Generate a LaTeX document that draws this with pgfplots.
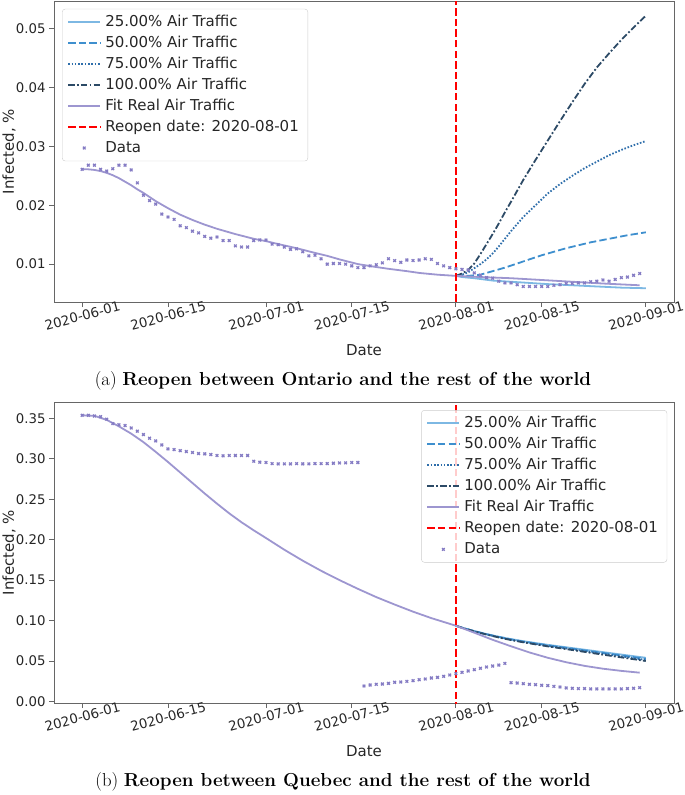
\documentclass[border=0pt]{standalone}
\usepackage{fontspec}
\usepackage{pgfplots}
\usepackage{pgfplotstable}
\pgfplotsset{compat=1.18}
\newfontfamily\dejavu{DejaVu Sans}

\definecolor{c25}{HTML}{7DB8E3}
\definecolor{c50}{HTML}{3E8FCE}
\definecolor{c75}{HTML}{2E6EAB}
\definecolor{c100}{HTML}{2C4A66}
\definecolor{cfit}{HTML}{9D96D0}
\definecolor{cdata}{HTML}{857CC4}

% Ontario, observed
\pgfplotstableread{
day val
0 0.0261
1 0.0268
2 0.0268
3 0.0261
4 0.0258
5 0.0262
6 0.0268
7 0.0268
8 0.0260
9 0.0238
10 0.0217
11 0.0208
12 0.0202
13 0.0185
14 0.0180
15 0.0176
16 0.0165
17 0.0162
18 0.0156
19 0.0153
20 0.0147
21 0.0144
22 0.0146
23 0.0140
24 0.0140
25 0.0131
26 0.0129
27 0.0129
28 0.0140
29 0.0141
30 0.0141
31 0.0134
32 0.0133
33 0.0129
34 0.0125
35 0.0126
36 0.0121
37 0.0114
38 0.0115
39 0.0109
40 0.0100
41 0.0101
42 0.0101
43 0.0100
44 0.0097
45 0.0094
46 0.0094
47 0.0097
48 0.0099
49 0.0102
50 0.0109
51 0.0106
52 0.0103
53 0.0107
54 0.0106
55 0.0107
56 0.0109
57 0.0108
58 0.0101
59 0.0097
60 0.0094
61 0.0092
62 0.0091
63 0.0090
64 0.0085
65 0.0081
66 0.0077
67 0.0076
68 0.0071
69 0.0068
70 0.0068
71 0.0065
72 0.0062
73 0.0062
74 0.0062
75 0.0062
76 0.0062
77 0.0064
78 0.0065
79 0.0067
80 0.0067
81 0.0068
82 0.0068
83 0.0070
84 0.0071
85 0.0073
86 0.0071
87 0.0074
88 0.0077
89 0.0078
90 0.0081
91 0.0084
}\ontdata

% Quebec, observed
\pgfplotstableread{
day val
0 0.3537
1 0.3537
2 0.3528
3 0.3520
4 0.3488
5 0.3434
6 0.3420
7 0.3410
8 0.3380
9 0.3340
10 0.3299
11 0.3253
12 0.3220
13 0.3170
14 0.3121
15 0.3113
16 0.3100
17 0.3089
18 0.3077
19 0.3064
20 0.3060
21 0.3052
22 0.3040
23 0.3036
24 0.3040
25 0.3040
26 0.3040
27 0.3040
28 0.2969
29 0.2957
30 0.2953
31 0.2940
32 0.2936
33 0.2936
34 0.2936
35 0.2940
36 0.2936
37 0.2936
38 0.2940
39 0.2940
40 0.2940
41 0.2944
42 0.2948
43 0.2948
44 0.2953
45 0.2953
46 0.0191
47 0.0204
48 0.0212
49 0.0216
50 0.0224
51 0.0237
52 0.0241
53 0.0249
54 0.0257
55 0.0269
56 0.0278
57 0.0290
58 0.0298
59 0.0311
60 0.0327
61 0.0344
62 0.0360
63 0.0377
64 0.0393
65 0.0410
66 0.0426
67 0.0438
68 0.0450
69 0.0471
70 0.0232
71 0.0228
72 0.0220
73 0.0212
74 0.0208
75 0.0200
76 0.0196
77 0.0187
78 0.0179
79 0.0167
80 0.0163
81 0.0159
82 0.0159
83 0.0155
84 0.0155
85 0.0155
86 0.0155
87 0.0155
88 0.0155
89 0.0159
90 0.0163
91 0.0171
}\quedata

\pgfplotsset{
  panel/.style={
    scale only axis, width=620pt, height=301pt,
    xmin=-4.6, xmax=96.6,
    scaled y ticks=false,
    axis line style={black!60, line width=0.8pt},
    tick align=outside, major tick length=5pt,
    tick style={black!60, line width=0.8pt},
    tick pos=left,
    xtick={0,14,30,44,61,75,92},
    xticklabels={2020-06-01,2020-06-15,2020-07-01,2020-07-15,2020-08-01,2020-08-15,2020-09-01},
    xticklabel style={font=\dejavu\fontsize{13.3}{15}\selectfont, text=black!85, rotate=15, anchor=north, xshift=-2pt},
    yticklabel style={font=\dejavu\fontsize{13.3}{15}\selectfont, text=black!85,
      /pgf/number format/fixed, /pgf/number format/fixed zerofill,
      /pgf/number format/precision=2, /pgf/number format/assume math mode=true},
    xlabel={Date}, ylabel={Infected, \%},
    every axis x label/.style={at={(axis description cs:0.5,0)}, anchor=center, yshift=-48pt,
      font=\dejavu\fontsize{15}{17}\selectfont, text=black!85},
    every axis y label/.style={at={(axis description cs:-0.0726,0.5)}, anchor=center, rotate=90,
      font=\dejavu\fontsize{15}{17}\selectfont, text=black!85},
    legend cell align=left,
    legend style={font=\dejavu\fontsize{15}{17}\selectfont, text=black!85,
      draw=black!20, rounded corners=3pt,
      fill=white, fill opacity=0.8, text opacity=1,
      inner xsep=5pt, inner ysep=6pt, row sep=7pt, column sep=0pt,
      nodes={inner xsep=4pt, inner ysep=0pt, text height=11pt, text depth=3pt}},
    legend image code/.code={\draw[#1] (0pt,0pt) -- (32pt,0pt);},
  },
  s25/.style={c25, line width=1.8pt},
  s50/.style={c50, line width=1.8pt, dash pattern=on 7.4pt off 3.2pt},
  s75/.style={c75, line width=1.8pt, dash pattern=on 1.6pt off 1.7pt},
  s100/.style={c100, line width=1.8pt, dash pattern=on 6.5pt off 2.2pt on 1.8pt off 2.2pt},
  sfit/.style={cfit, line width=1.8pt},
  sopen/.style={red, line width=2pt, dash pattern=on 7.4pt off 3.2pt},
  sdata/.style={cdata, only marks, mark=x, mark size=1.9pt, line width=1.3pt,
    legend image code/.code={\draw[##1] plot coordinates {(16pt,0pt)};}},
}

\begin{document}
\begin{tikzpicture}[x=1pt, y=1pt]
\path[use as bounding box] (0,0) rectangle (685,-795);

% (a) Ontario
\begin{axis}[panel, at={(54pt,-302pt)}, anchor=south west,
  ymin=0.00356, ymax=0.0547, ytick={0.01,0.02,0.03,0.04,0.05},
  legend style={at={(axis description cs:0.013,0.974)}, anchor=north west}]
\addplot[s25] coordinates {(61,0.0080) (62,0.0078) (64,0.0076) (67,0.0072) (70,0.0070) (73,0.0068) (76,0.0066) (80,0.0064) (84,0.0062) (88,0.0060) (92,0.0059)};
\addlegendentry{25.00\% Air Traffic}
\addplot[s50] coordinates {(61,0.0080) (63,0.0080) (65,0.0082) (67,0.0088) (69,0.0094) (71,0.0101) (73,0.0108) (75,0.0115) (77,0.0121) (79,0.0127) (81,0.0132) (83,0.0137) (85,0.0141) (87,0.0145) (89,0.0149) (92,0.0154)};
\addlegendentry{50.00\% Air Traffic}
\addplot[s75] coordinates {(61,0.0080) (62,0.0082) (63,0.0086) (64,0.0093) (65,0.0100) (66,0.0108) (67,0.0118) (68,0.0130) (69,0.0143) (70,0.0156) (72,0.0180) (74,0.0200) (76,0.0220) (78,0.0236) (80,0.0250) (82,0.0263) (84,0.0274) (86,0.0285) (88,0.0294) (90,0.0302) (92,0.0309)};
\addlegendentry{75.00\% Air Traffic}
\addplot[s100] coordinates {(61,0.0080) (62,0.0084) (63,0.0090) (64,0.0101) (65,0.0117) (66,0.0134) (67,0.0151) (68,0.0169) (69,0.0188) (70,0.0206) (72,0.0243) (74,0.0277) (76,0.0310) (78,0.0343) (80,0.0375) (82,0.0406) (84,0.0434) (86,0.0458) (88,0.0481) (90,0.0502) (92,0.0522)};
\addlegendentry{100.00\% Air Traffic}
\addplot[sfit] coordinates {(0,0.0261) (1,0.0261) (2,0.0260) (3,0.0258) (4,0.0255) (5,0.0251) (6,0.0246) (7,0.0240) (8,0.0234) (9,0.0227) (10,0.0221) (11,0.0214) (12,0.0207) (14,0.0195) (16,0.0184) (18,0.0175) (20,0.0167) (22,0.0160) (25,0.0151) (28,0.0143) (30,0.0139) (32,0.0134) (35,0.0127) (38,0.0119) (40,0.0114) (42,0.0108) (45,0.0100) (48,0.0095) (50,0.0092) (53,0.0088) (55,0.0085) (58,0.0082) (61,0.0080) (65,0.0078) (70,0.0076) (75,0.0073) (80,0.0070) (85,0.0067) (91,0.0064)};
\addlegendentry{Fit Real Air Traffic}
\addplot[sopen] coordinates {(61,0) (61,0.06)};
\addlegendentry{Reopen date: 2020-08-01}
\addplot[sdata] table[x=day, y=val] {\ontdata};
\addlegendentry{Data}
\end{axis}

% (b) Quebec
\begin{axis}[panel, at={(54pt,-703pt)}, anchor=south west,
  ymin=-0.0019, ymax=0.3701, ytick={0,0.05,0.10,0.15,0.20,0.25,0.30,0.35},
  legend style={at={(axis description cs:0.989,0.973)}, anchor=north east}]
\addplot[s25] coordinates {(61,0.0936) (62,0.0912) (64,0.0870) (66,0.0833) (68,0.0800) (70,0.0771) (72,0.0745) (76,0.0700) (80,0.0660) (84,0.0620) (88,0.0580) (92,0.0540)};
\addlegendentry{25.00\% Air Traffic}
\addplot[s50] coordinates {(61,0.0936) (62,0.0912) (64,0.0869) (66,0.0831) (68,0.0797) (70,0.0767) (72,0.0740) (76,0.0694) (80,0.0652) (84,0.0610) (88,0.0569) (92,0.0527)};
\addlegendentry{50.00\% Air Traffic}
\addplot[s75] coordinates {(61,0.0936) (62,0.0911) (64,0.0867) (66,0.0829) (68,0.0794) (70,0.0763) (72,0.0736) (76,0.0687) (80,0.0644) (84,0.0600) (88,0.0557) (92,0.0513)};
\addlegendentry{75.00\% Air Traffic}
\addplot[s100] coordinates {(61,0.0936) (62,0.0911) (64,0.0866) (66,0.0827) (68,0.0791) (70,0.0759) (72,0.0731) (76,0.0681) (80,0.0636) (84,0.0590) (88,0.0545) (92,0.0500)};
\addlegendentry{100.00\% Air Traffic}
\addplot[sfit] coordinates {(0,0.3537) (2,0.3530) (4,0.3480) (6,0.3400) (8,0.3310) (10,0.3205) (12,0.3085) (14,0.2960) (16,0.2830) (18,0.2700) (20,0.2570) (22,0.2445) (24,0.2325) (26,0.2215) (28,0.2115) (30,0.2020) (33,0.1875) (36,0.1740) (39,0.1615) (42,0.1500) (45,0.1392) (48,0.1290) (51,0.1198) (54,0.1110) (57,0.1030) (61,0.0936) (64,0.0850) (67,0.0762) (70,0.0682) (73,0.0606) (76,0.0540) (79,0.0485) (82,0.0440) (85,0.0405) (88,0.0378) (91,0.0356)};
\addlegendentry{Fit Real Air Traffic}
\addplot[sopen] coordinates {(61,-0.01) (61,0.38)};
\addlegendentry{Reopen date: 2020-08-01}
\addplot[sdata] table[x=day, y=val] {\quedata};
\addlegendentry{Data}
\end{axis}

\node at (343,-381) {\fontsize{18.8}{22}\selectfont (a) \textbf{Reopen between Ontario and the rest of the world}};
\node at (343,-782) {\fontsize{18.8}{22}\selectfont (b) \textbf{Reopen between Quebec and the rest of the world}};
\end{tikzpicture}
\end{document}
